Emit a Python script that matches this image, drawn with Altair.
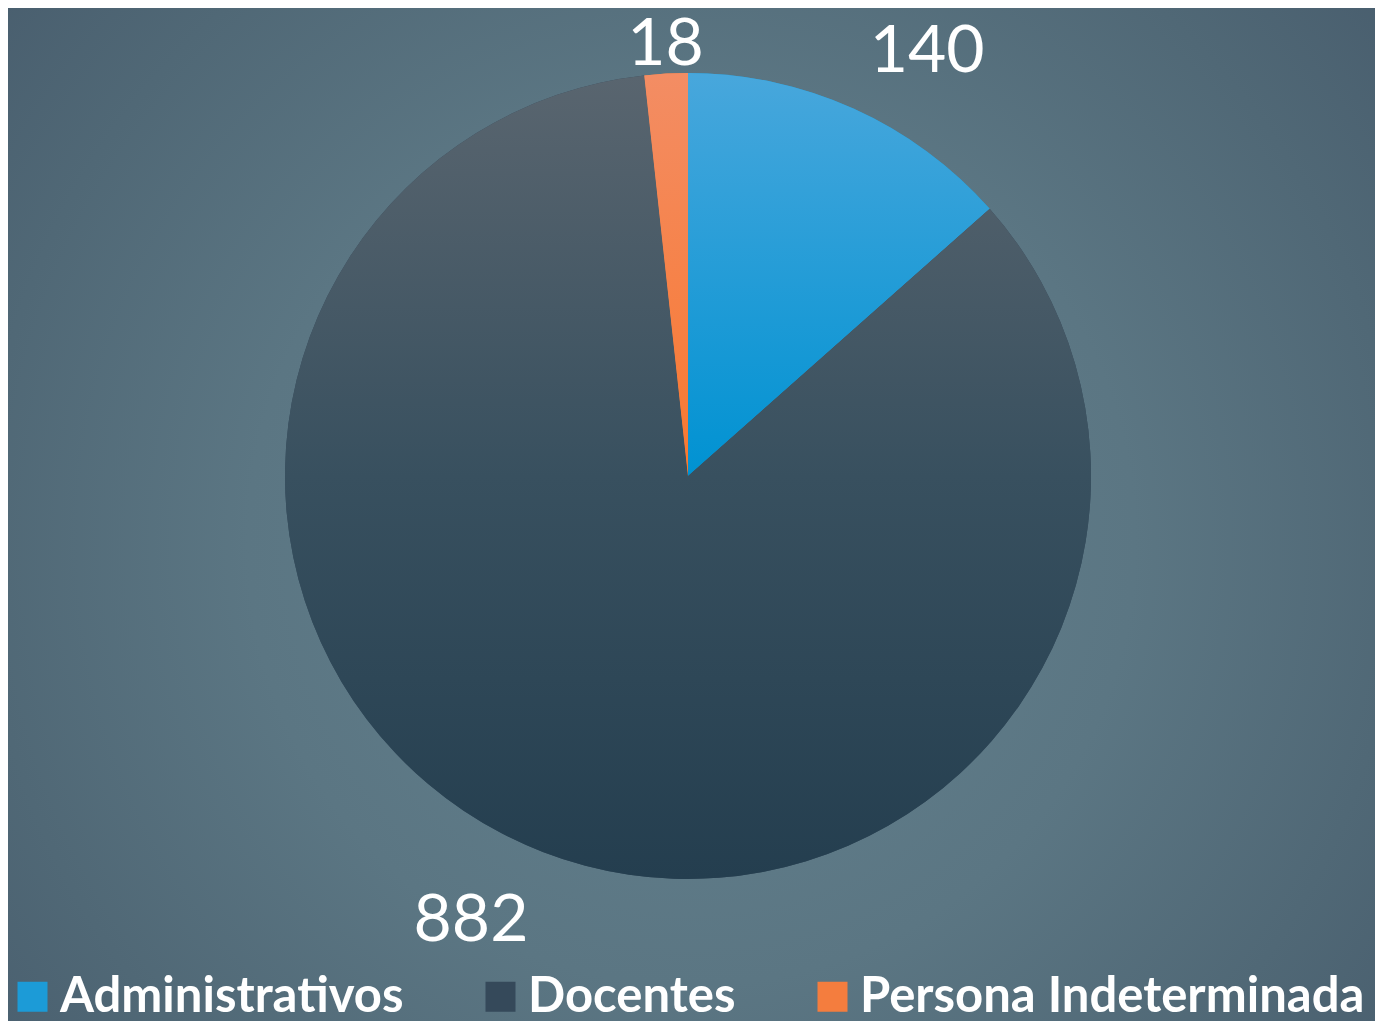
import altair as alt
import pandas as pd

categories = ["Administrativos", "Docentes", "Persona Indeterminada"]
counts = [140, 882, 18]
order_idx = [1, 2, 3]
legend_colors = ["#1c9bd7", "#35495a", "#f47d3e"]

df = pd.DataFrame({"category": categories, "count": counts, "idx": order_idx})

W, H = 1367, 1013
CX, CY = 680, 468
R = 403


def lin(stops):
    return {"gradient": "linear", "x1": 0, "y1": 0, "x2": 0, "y2": 1,
            "stops": [{"offset": o, "color": c} for o, c in stops]}


grad_admin = lin([(0, "#48a7dc"), (1, "#0092d2")])
grad_doc = lin([(0, "#59656f"), (0.5, "#38505f"), (1, "#243e4f")])
grad_pers = lin([(0, "#f38d64"), (1, "#f9782f")])

bg_grad = {"gradient": "radial", "x1": 0.5, "y1": 0.52, "r1": 0,
           "x2": 0.5, "y2": 0.52, "r2": 0.72,
           "stops": [{"offset": 0, "color": "#64828f"},
                     {"offset": 0.45, "color": "#5b7683"},
                     {"offset": 0.72, "color": "#506876"},
                     {"offset": 1, "color": "#45596a"}]}

base = alt.Chart(df)

background = base.mark_rect(fill=bg_grad, strokeWidth=0).encode(
    x=alt.value(0), x2=alt.value(W), y=alt.value(0), y2=alt.value(H)
)

theta = alt.Theta("count:Q", stack=True)

pie_base = base.mark_arc(radius=R, strokeWidth=0).encode(
    theta=theta,
    color=alt.Color(
        "category:N",
        scale=alt.Scale(domain=categories, range=legend_colors),
        legend=alt.Legend(
            title=None, orient="none", direction="horizontal",
            legendX=0, legendY=964, padding=0,
            symbolType="square", symbolSize=900, symbolStrokeWidth=0,
            symbolOpacity=1,
            labelFont="Lato", labelFontWeight="bold", labelFontSize=49,
            labelColor="white", labelOffset=3, labelLimit=1000,
            columnPadding=72,
        ),
    ),
    order=alt.Order("idx:Q"),
    x=alt.value(CX), y=alt.value(CY),
)

pie_grad = base.mark_arc(radius=R, strokeWidth=0).encode(
    theta=theta,
    detail="category:N",
    order=alt.Order("idx:Q"),
    fill=alt.value(grad_pers, condition=[
        {"test": "datum.category === 'Administrativos'", "value": grad_admin},
        {"test": "datum.category === 'Docentes'", "value": grad_doc},
    ]),
    x=alt.value(CX), y=alt.value(CY),
)

labels = base.transform_joinaggregate(
    total="sum(count)"
).transform_window(
    cum="sum(count)", sort=[alt.SortField("idx")], frame=[None, 0]
).transform_calculate(
    mid="2 * PI * (datum.cum - datum.count / 2) / datum.total"
).mark_text(
    radius=alt.expr("abs(sin(datum.mid)) < 0.1 ? 412 : 443"),
    font="Lato", fontSize=66, color="white",
    align=alt.expr("sin(datum.mid) > 0.1 ? 'left' : (sin(datum.mid) < -0.1 ? 'right' : 'center')"),
    baseline=alt.expr("cos(datum.mid) > 0 ? 'alphabetic' : 'top'"),
).encode(
    theta=theta,
    detail="category:N",
    order=alt.Order("idx:Q"),
    text="count:Q",
    x=alt.value(CX), y=alt.value(CY),
)

chart = alt.layer(background, pie_base, pie_grad, labels).properties(
    width=W, height=H, padding=0, autosize=alt.AutoSizeParams(type="none")
).configure_view(stroke=None)

chart.save("out.html", embed_options={"renderer": "svg", "actions": False})
